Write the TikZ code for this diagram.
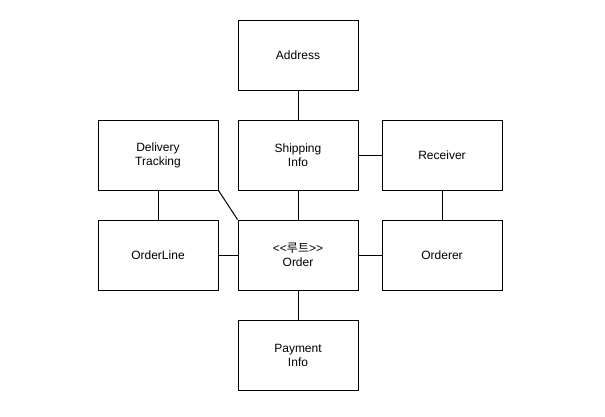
\documentclass[tikz,border=0pt]{standalone}
\usepackage{fontspec}
\setmainfont{Liberation Sans}
\newfontfamily\kor{Noto Sans CJK KR}
\begin{document}
\begin{tikzpicture}[x=1pt, y=-1pt, line width=1pt,
    box/.style={draw, minimum width=120pt, minimum height=70pt, align=center, font=\fontsize{12}{14}\selectfont, inner sep=0pt}]
        \useasboundingbox (0, 0) rectangle (605, 416);
        \node[box] (address) at (298, 55) {Address};
        \node[box] (delivery) at (158, 155) {Delivery\\Tracking};
        \node[box] (shipping) at (298, 155) {Shipping\\Info};
        \node[box] (receiver) at (442, 155) {Receiver};
        \node[box] (orderline) at (158, 255) {OrderLine};
        \node[box] (order) at (298, 255) {<\kern0pt<{\kor 루트}>\kern0pt>\\Order};
        \node[box] (orderer) at (442, 255) {Orderer};
        \node[box] (payment) at (298, 355) {Payment\\Info};
        \draw (address) -- (shipping);
        \draw (shipping) -- (receiver);
        \draw (receiver) -- (orderer);
        \draw (delivery) -- (orderline);
        \draw (delivery.south east) -- (order.north west);
        \draw (shipping) -- (order);
        \draw (orderline) -- (order);
        \draw (order) -- (orderer);
        \draw (order) -- (payment);
    \end{tikzpicture}
\end{document}
